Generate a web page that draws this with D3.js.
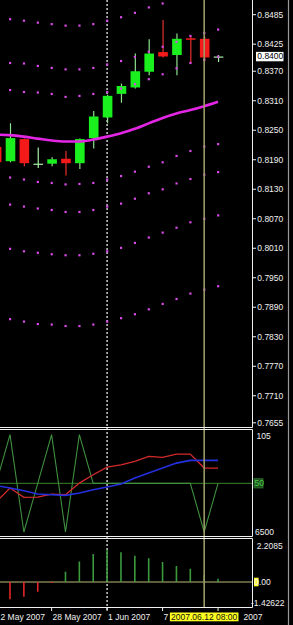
<!DOCTYPE html>
<html>
<head>
<meta charset="utf-8">
<title>EURGBP Daily</title>
<script src="https://cdnjs.cloudflare.com/ajax/libs/d3/7.8.5/d3.min.js"></script>
<style>
  body { margin: 0; background: #000; }
  svg text { font-family: "Liberation Sans", Arial, sans-serif; font-size: 8.5px; }
</style>
</head>
<body>
<div id="chart"></div>
<script>
// bar dates (daily bars, first one is only partly visible)
const dates = ["2007-05-22","2007-05-23","2007-05-24","2007-05-25","2007-05-28","2007-05-29","2007-05-30","2007-05-31",
  "2007-06-01","2007-06-04","2007-06-05","2007-06-06","2007-06-07","2007-06-08","2007-06-11","2007-06-12","2007-06-13"];

// candles
const open  = [0.8216,0.8187,0.8232,0.8182,0.8182,0.8192,0.8183,0.8234,0.8276,0.8324,0.8337,0.8369,0.8409,0.8403,0.8437,0.8436,0.8400];
const high  = [0.8230,0.8264,0.8233,0.8215,0.8195,0.8208,0.8233,0.8289,0.8322,0.8345,0.8406,0.8435,0.8474,0.8447,0.8441,0.8440,0.8403];
const low   = [0.8179,0.8185,0.8177,0.8173,0.8177,0.8158,0.8171,0.8213,0.8264,0.8306,0.8335,0.8362,0.8398,0.8362,0.8386,0.8393,0.8389];
const close = [0.8185,0.8234,0.8183,0.8182,0.8191,0.8183,0.8232,0.8278,0.8320,0.8340,0.8370,0.8406,0.8400,0.8436,0.8434,0.8398,0.8400];

// moving average
const ma = [0.8241,0.8240,0.8237,0.8233,0.8229,0.8227,0.8227,0.8231,0.8237,0.8244,0.8253,0.8264,0.8275,0.8284,0.8291,0.8299,0.8308];

// envelope dots (null = off screen)
const envUp3 = [null,0.8476,0.8473,0.8469,0.8466,0.8463,0.8463,0.8466,0.8473,0.8480,0.8489,0.8500,0.8508,null,null,null,null];
const envUp2 = [null,0.8387,0.8386,0.8381,0.8377,0.8374,0.8374,0.8377,0.8384,0.8391,0.8399,0.8410,0.8420,0.8430,0.8442,0.8448,0.8455];
const envUp1 = [null,0.8332,0.8328,0.8327,0.8324,0.8318,0.8320,0.8324,0.8328,0.8335,0.8344,0.8354,0.8364,0.8376,0.8387,0.8393,0.8400];
const envDn1 = [null,0.8154,0.8150,0.8145,0.8143,0.8140,0.8141,0.8143,0.8150,0.8157,0.8166,0.8176,0.8185,0.8198,0.8208,0.8217,0.8222];
const envDn2 = [null,0.8099,0.8095,0.8091,0.8088,0.8084,0.8084,0.8088,0.8095,0.8101,0.8111,0.8122,0.8130,0.8142,0.8151,0.8160,0.8165];
const envDn3 = [null,0.8009,0.8004,0.8001,0.7998,0.7996,0.7996,0.7999,0.8004,0.8011,0.8021,0.8032,0.8042,0.8052,0.8063,0.8070,0.8077];
const envDn4 = [null,0.7866,0.7861,0.7856,0.7855,0.7852,0.7852,0.7855,0.7861,0.7868,0.7876,0.7886,0.7897,0.7907,0.7918,0.7926,0.7933];

const priceTicks = [0.8485,0.8425,0.8370,0.8310,0.8250,0.8190,0.8130,0.8070,0.8010,0.7950,0.7890,0.7830,0.7770,0.7710,0.7655];
const lastPrice = 0.8400;

// oscillator panel
const zigzag   = [50,105,-5,50,105,-5,105,50,50,50,50,50,50,50,50,-5,50];
const redLine  = [29,44.7,34.2,34.5,37.9,37.1,50.3,59.7,68.4,71.0,74.9,80.5,79.4,83.1,83.1,67.3,67.3];
const blueLine = [47.5,44.7,41.6,37.9,37.1,36.4,39.0,42.8,45.8,49.2,56.0,61.6,67.3,72.9,76.0,76.0,76.0];
const oscLabels = ["105", "6500"];

// histogram panel
const hist = [null,-1.06,-0.90,-0.60,-0.06,0.63,1.25,1.72,1.96,1.82,1.61,1.45,1.23,0.98,0.82,0.43,0.20];
const histMax = 2.2085, histMin = -1.42622;

// time axis (only the parts the crosshair box leaves visible)
const tickDates  = ["2007-05-22","2007-05-28","2007-06-01","2007-06-07","2007-06-13"];
const labelTexts = ["2 May 2007","28 May 2007","1 Jun 2007","7","2007"];
const labelX     = [0.5, null, null, null, 243.5];   // null = start at tick
const dottedDate = "2007-06-01";
const crossDate = "2007-06-12";
const crossText = "2007.06.12 08:00";

const width = 293, height = 625;
const plotRight = 252.5;

const svg = d3.select("#chart").append("svg")
    .attr("width", width)
    .attr("height", height)
    .style("display", "block")
    .style("background", "#000");

const x = d3.scalePoint().domain(dates).range([-3.87, 218.05]);
const y = d3.scaleLinear().domain([0.8485, 0.7655]).range([14.7, 422.8]);
const yOsc = d3.scaleLinear().domain([105, -5]).range([434.7, 532]);
const yHist = d3.scaleLinear().domain([histMax, 0]).range([546, 582]);

const bars = dates.map((d, i) => ({ date: d, i: i, o: open[i], h: high[i], l: low[i], c: close[i] }));

// clips for the panels
const defs = svg.append("defs");
defs.append("clipPath").attr("id", "clipMain").append("rect").attr("x", 0).attr("y", 0).attr("width", plotRight).attr("height", 427);
defs.append("clipPath").attr("id", "clipOsc").append("rect").attr("x", 0).attr("y", 430).attr("width", plotRight).attr("height", 106);
defs.append("clipPath").attr("id", "clipHist").append("rect").attr("x", 0).attr("y", 539).attr("width", plotRight).attr("height", 68);

// --- level lines (behind) ---
svg.append("line")
    .attr("x1", 0).attr("x2", plotRight)
    .attr("y1", yOsc(50)).attr("y2", yOsc(50))
    .style("stroke", "#2e6a22").style("stroke-width", 1.3);

svg.append("line")
    .attr("x1", 0).attr("x2", plotRight)
    .attr("y1", yHist(0)).attr("y2", yHist(0))
    .style("stroke", "#7e7e52").style("stroke-width", 1.3);

// vertical markers
svg.append("line")
    .attr("x1", x(dottedDate)).attr("x2", x(dottedDate))
    .attr("y1", 0).attr("y2", 612)
    .style("stroke", "#e8e8e8").style("stroke-width", 1.3)
    .style("stroke-dasharray", "2,2");

// --- main panel ---
const main = svg.append("g").attr("clip-path", "url(#clipMain)");

const candle = main.selectAll("g.candle")
    .data(bars)
    .enter()
    .append("g")
    .attr("class", "candle");

function candleColor(d) {
    if (d.c > d.o) return "#19f01e";
    if (d.c < d.o) return "#f41a1a";
    return "#a8eea8";
}
function wickColor(d) {
    if (d.c > d.o) return "#8ee08e";
    if (d.c < d.o) return "#e83030";
    return "#a8eea8";
}

candle.append("line")
    .attr("x1", d => x(d.date) + 0.5).attr("x2", d => x(d.date) + 0.5)
    .attr("y1", d => y(d.h)).attr("y2", d => y(d.l))
    .style("stroke", wickColor)
    .style("stroke-width", 1.2);

candle.append("rect")
    .attr("x", d => x(d.date) - 4.3)
    .attr("width", 9.6)
    .attr("y", d => y(Math.max(d.o, d.c)))
    .attr("height", d => Math.max(1.2, Math.abs(y(d.o) - y(d.c))))
    .style("fill", candleColor);

// moving average
const maLine = d3.line()
    .x((d, i) => x(dates[i]))
    .y(d => y(d))
    .curve(d3.curveMonotoneX);

main.append("path")
    .datum(ma)
    .attr("d", maLine)
    .style("fill", "none")
    .style("stroke", "#e326e3")
    .style("stroke-width", 2.6);

// envelope dots
[envUp3, envUp2, envUp1, envDn1, envDn2, envDn3, envDn4].forEach(row => {
    main.selectAll(null)
        .data(row.map((v, i) => ({ v: v, date: dates[i] })).filter(d => d.v !== null))
        .enter()
        .append("rect")
        .attr("x", d => x(d.date) - 1)
        .attr("y", d => y(d.v) - 1)
        .attr("width", 2.2)
        .attr("height", 2.2)
        .style("fill", "#d84ae6");
});

// --- oscillator panel ---
const osc = svg.append("g").attr("clip-path", "url(#clipOsc)");
const oscLine = d3.line()
    .x((d, i) => x(dates[i]))
    .y(d => yOsc(d));

osc.append("path").datum(zigzag).attr("d", oscLine)
    .style("fill", "none").style("stroke", "#3f8f3f").style("stroke-width", 1.1);
osc.append("path").datum(redLine).attr("d", oscLine)
    .style("fill", "none").style("stroke", "#d42a2a").style("stroke-width", 1.3);
osc.append("path").datum(blueLine).attr("d", oscLine)
    .style("fill", "none").style("stroke", "#2430e0").style("stroke-width", 1.6);

// --- histogram panel ---
const histG = svg.append("g").attr("clip-path", "url(#clipHist)");
histG.selectAll("line.hbar")
    .data(hist.map((v, i) => ({ v: v, date: dates[i] })).filter(d => d.v !== null))
    .enter()
    .append("line")
    .attr("class", "hbar")
    .attr("x1", d => x(d.date)).attr("x2", d => x(d.date))
    .attr("y1", yHist(0))
    .attr("y2", d => yHist(d.v))
    .style("stroke", d => d.v >= 0 ? "#3c9a3c" : "#e42626")
    .style("stroke-width", 1.6);

// crosshair line
svg.append("line")
    .attr("x1", x(crossDate)).attr("x2", x(crossDate))
    .attr("y1", 0).attr("y2", 607.5)
    .style("stroke", "#9a9a68").style("stroke-width", 1.6);

// --- panel borders ---
const border = svg.append("g").style("stroke", "#f0f0f0").style("stroke-width", 1);
[427.5, 429.5, 536.5, 538.5, 607.5].forEach(v => {
    border.append("line").attr("x1", 0).attr("x2", plotRight).attr("y1", v).attr("y2", v);
});
border.append("line").attr("x1", plotRight).attr("x2", plotRight).attr("y1", 0).attr("y2", 427.5);
border.append("line").attr("x1", plotRight).attr("x2", plotRight).attr("y1", 429.5).attr("y2", 536.5);
border.append("line").attr("x1", plotRight).attr("x2", plotRight).attr("y1", 538.5).attr("y2", 607.5);

// window edge
svg.append("line")
    .attr("x1", 288.5).attr("x2", 288.5).attr("y1", 0).attr("y2", height)
    .style("stroke", "#9a9a9a").style("stroke-width", 1.2);

// --- price axis ---
const axisG = svg.append("g");
priceTicks.forEach(t => {
    axisG.append("line")
        .attr("x1", plotRight).attr("x2", 256)
        .attr("y1", y(t)).attr("y2", y(t))
        .style("stroke", "#f0f0f0");
    axisG.append("text")
        .attr("x", 257.3).attr("y", y(t))
        .attr("dy", "0.35em")
        .style("fill", "#f0f0f0")
        .text(t.toFixed(4));
});

// last price box
axisG.append("rect")
    .attr("x", 256).attr("y", y(lastPrice) - 4.6)
    .attr("width", 27.5).attr("height", 9.4)
    .style("fill", "#ffffff");
axisG.append("text")
    .attr("x", 257.3).attr("y", y(lastPrice))
    .attr("dy", "0.35em")
    .style("fill", "#000")
    .text(lastPrice.toFixed(4));

// oscillator labels
axisG.append("text").attr("x", 256.5).attr("y", yOsc(105) + 1).attr("dy", "0.35em")
    .style("fill", "#f0f0f0").text(oscLabels[0]);
axisG.append("text").attr("x", 255).attr("y", yOsc(-5)).attr("dy", "0.35em")
    .style("fill", "#f0f0f0").text(oscLabels[1]);
axisG.append("rect")
    .attr("x", 254).attr("y", yOsc(50) - 4.6)
    .attr("width", 9).attr("height", 9.2)
    .style("fill", "#1d4f1d").style("stroke", "#2f7a2f").style("stroke-width", 0.8);
axisG.append("text").attr("x", 254.5).attr("y", yOsc(50)).attr("dy", "0.35em")
    .style("fill", "#4ccd4c").text("50");

// histogram labels
axisG.append("text").attr("x", 256.7).attr("y", yHist(histMax)).attr("dy", "0.35em")
    .style("fill", "#f0f0f0").text(histMax.toFixed(4));
axisG.append("rect")
    .attr("x", 254).attr("y", yHist(0) - 4.3)
    .attr("width", 4.6).attr("height", 8.6)
    .style("fill", "#ffff30");
axisG.append("text").attr("x", 254.2).attr("y", yHist(0)).attr("dy", "0.35em")
    .style("fill", "#f0f0f0").text("0.00");
axisG.append("text").attr("x", 251).attr("y", yHist(histMin) - 2.5).attr("dy", "0.35em")
    .style("fill", "#f0f0f0").text(histMin.toFixed(5));

// --- time axis ---
tickDates.forEach((d, k) => {
    axisG.append("line")
        .attr("x1", x(d)).attr("x2", x(d))
        .attr("y1", 607.5).attr("y2", 611)
        .style("stroke", "#f0f0f0");
    axisG.append("text")
        .attr("x", labelX[k] !== null ? labelX[k] : x(d) + 1).attr("y", 616.7)
        .attr("dy", "0.35em")
        .style("fill", "#f0f0f0")
        .text(labelTexts[k]);
});

// crosshair date box
axisG.append("rect")
    .attr("x", x(crossDate) - 34.3).attr("y", 612.5)
    .attr("width", 68.6).attr("height", 8.8)
    .style("fill", "#ffff20");
axisG.append("text")
    .attr("x", x(crossDate)).attr("y", 617)
    .attr("dy", "0.35em")
    .attr("text-anchor", "middle")
    .style("fill", "#101010")
    .text(crossText);
</script>
</body>
</html>
